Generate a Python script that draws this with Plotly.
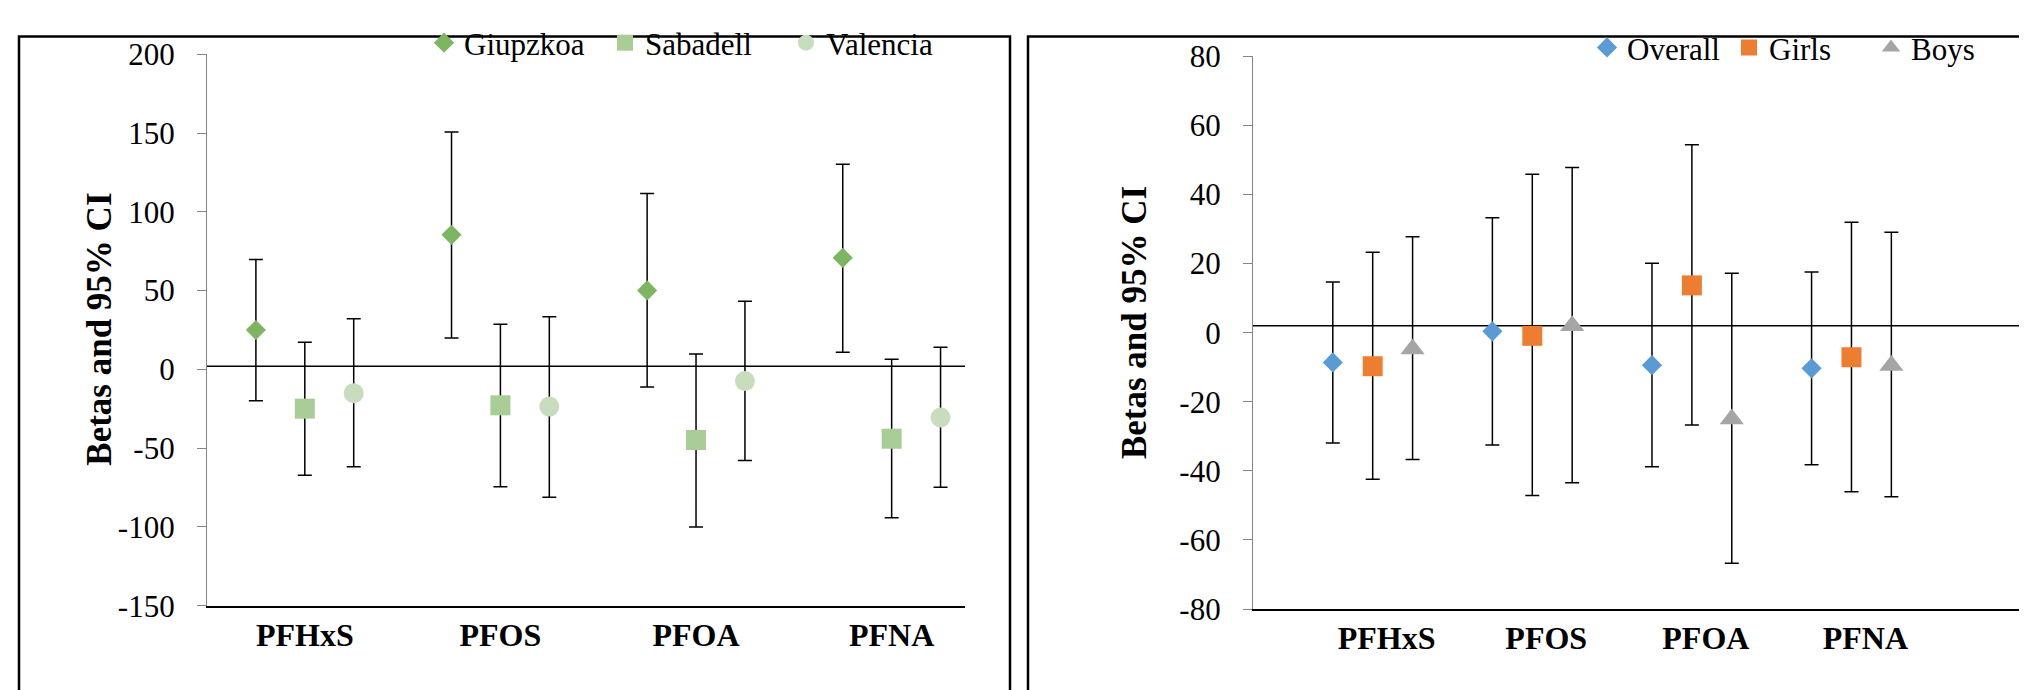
import plotly.graph_objects as go

W, H = 2027, 690

# ---------------- data ----------------
compounds = ["PFHxS", "PFOS", "PFOA", "PFNA"]

# Left panel: cohorts
cohorts = ["Giupzkoa", "Sabadell", "Valencia"]
giupzkoa_beta = [25.0, 85.4, 50.1, 70.8]
giupzkoa_low = [-19.9, 19.9, -11.1, 10.9]
giupzkoa_high = [69.7, 150.6, 111.6, 130.2]

sabadell_beta = [-24.9, -22.8, -44.8, -44.0]
sabadell_low = [-67.1, -74.5, -100.0, -94.1]
sabadell_high = [17.2, 28.6, 9.8, 6.4]

valencia_beta = [-15.1, -23.6, -7.4, -30.5]
valencia_low = [-61.8, -81.1, -57.8, -74.8]
valencia_high = [32.1, 33.4, 43.2, 14.1]

# Right panel: sex strata
groups = ["Overall", "Girls", "Boys"]
overall_beta = [-8.6, 0.4, -9.4, -10.3]
overall_low = [-31.9, -32.5, -38.8, -38.2]
overall_high = [14.7, 33.3, 20.1, 17.6]

girls_beta = [-9.7, -0.9, 13.7, -7.1]
girls_low = [-42.4, -47.1, -26.7, -46.0]
girls_high = [23.3, 45.9, 54.4, 32.0]

boys_beta = [-4.7, 2.0, -25.0, -9.5]
boys_low = [-36.7, -43.4, -66.7, -47.5]
boys_high = [27.8, 47.8, 17.2, 29.1]

left_ticks = [-150, -100, -50, 0, 50, 100, 150, 200]
left_tick_labels = ["-150", "-100", "-50", "0", "50", "100", "150", "200"]
right_ticks = [-80, -60, -40, -20, 0, 20, 40, 60, 80]
right_tick_labels = ["-80", "-60", "-40", "-20", "0", "20", "40", "60", "80"]
ref_line_value = 2  # horizontal reference line drawn in both panels

# ---------------- styles ----------------
left_styles = [
    dict(symbol="diamond", color="#7DB562", size=15.5),
    dict(symbol="square", color="#A9CD96", size=20),
    dict(symbol="circle", color="#C8DDBE", size=20),
]
right_styles = [
    dict(symbol="diamond", color="#5B9BD5", size=15.5),
    dict(symbol="square", color="#ED7D31", size=20),
    dict(symbol="triangle-up", color="#A5A5A5", size=21),
]

FONT = "Liberation Serif"

fig = go.Figure()


def add_series(name, beta, low, high, style, s, xa, ya, legend, base):
    xs = [4 * i + base + s for i in range(len(beta))]
    fig.add_trace(go.Scatter(
        x=xs, y=beta, name=name, mode="markers",
        xaxis=xa, yaxis=ya, legend=legend,
        marker=dict(symbol=style["symbol"], color=style["color"], size=style["size"],
                    line=dict(width=0)),
        error_y=dict(type="data", symmetric=False,
                     array=[h - b for h, b in zip(high, beta)],
                     arrayminus=[b - l for b, l in zip(beta, low)],
                     color="black", thickness=1.5, width=7),
        cliponaxis=False,
    ))


left_data = [(giupzkoa_beta, giupzkoa_low, giupzkoa_high),
             (sabadell_beta, sabadell_low, sabadell_high),
             (valencia_beta, valencia_low, valencia_high)]
right_data = [(overall_beta, overall_low, overall_high),
              (girls_beta, girls_low, girls_high),
              (boys_beta, boys_low, boys_high)]

for s, (name, (b, l, h)) in enumerate(zip(cohorts, left_data)):
    add_series(name, b, l, h, left_styles[s], s, "x", "y", "legend", 1)
for s, (name, (b, l, h)) in enumerate(zip(groups, right_data)):
    add_series(name, b, l, h, right_styles[s], s, "x2", "y2", "legend2", 2)

# ---------------- layout ----------------
def px_x(p):
    return p / W


def px_y(p):
    return 1 - p / H


yaxis_common = dict(
    showline=True, linecolor="#868686", linewidth=1.3,
    ticks="outside", ticklen=9, tickcolor="#868686", tickwidth=1.3,
    showgrid=False, zeroline=False,
    tickfont=dict(family=FONT, size=31, color="black"),
    ticklabelstandoff=16,
)
xaxis_common = dict(
    showline=True, linecolor="black", linewidth=1.5,
    ticks="", showgrid=False, zeroline=False,
    tickfont=dict(family=FONT, size=32, color="black", weight="bold"),
    ticklabelstandoff=0,
)
legend_common = dict(
    orientation="h", xanchor="left", yanchor="middle",
    font=dict(family=FONT, size=31, color="black"),
    entrywidthmode="pixels", bgcolor="rgba(0,0,0,0)", borderwidth=0,
)

fig.update_layout(
    width=W, height=H,
    margin=dict(l=0, r=0, t=0, b=0),
    paper_bgcolor="white", plot_bgcolor="white",
    showlegend=True,
    font=dict(family=FONT, color="black"),
    xaxis=dict(domain=[px_x(199), px_x(957)], range=[0, 15.5],
               tickvals=[4 * i + 2 for i in range(len(compounds))],
               ticktext=compounds, anchor="y", **xaxis_common),
    yaxis=dict(domain=[px_y(611.8), px_y(30.8)], range=[-150, 200],
               tickvals=left_ticks, ticktext=left_tick_labels, anchor="x",
               **yaxis_common),
    xaxis2=dict(domain=[px_x(1245), 1.0], range=[0, 19.6],
                tickvals=[4 * i + 3.35 for i in range(len(compounds))],
                ticktext=compounds, anchor="y2", **xaxis_common),
    yaxis2=dict(domain=[px_y(615.3), px_y(33)], range=[-80, 80],
                tickvals=right_ticks, ticktext=right_tick_labels, anchor="x2",
                **yaxis_common),
    legend=dict(x=px_x(416), y=px_y(19), entrywidth=136, **legend_common),
    legend2=dict(x=px_x(1579), y=px_y(24), entrywidth=97, **legend_common),
    annotations=[
        dict(text="<b>Betas and 95% CI</b>", xref="paper", yref="paper",
             x=px_x(92), y=px_y(321), xanchor="center", yanchor="middle",
             textangle=-90, showarrow=False,
             font=dict(family=FONT, size=35, color="black")),
        dict(text="<b>Betas and 95% CI</b>", xref="paper", yref="paper",
             x=px_x(1126), y=px_y(314), xanchor="center", yanchor="middle",
             textangle=-90, showarrow=False,
             font=dict(family=FONT, size=35, color="black")),
    ],
    shapes=[
        dict(type="line", xref="x", yref="y", x0=0, x1=15.5,
             y0=ref_line_value, y1=ref_line_value,
             line=dict(color="black", width=1.5), layer="below"),
        dict(type="line", xref="x2", yref="y2", x0=0, x1=19.6,
             y0=ref_line_value, y1=ref_line_value,
             line=dict(color="black", width=1.5), layer="below"),
        dict(type="rect", xref="paper", yref="paper",
             x0=px_x(11), x1=px_x(1002), y0=-0.2, y1=px_y(12),
             line=dict(color="black", width=2.5), layer="below"),
        dict(type="rect", xref="paper", yref="paper",
             x0=px_x(1020), x1=1.2, y0=-0.2, y1=px_y(12),
             line=dict(color="black", width=2.5), layer="below"),
    ],
)

fig.write_html("out.html")
